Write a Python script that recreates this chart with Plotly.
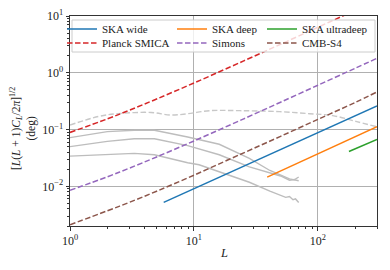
import plotly.graph_objects as go

# ---------------- data ----------------
L_cmb = [1, 2, 3, 5, 10, 20, 30, 50, 100, 200, 300]
planck = [0.089, 0.154, 0.218, 0.345, 0.66, 1.29, 1.92, 3.18, 6.33, 12.6, 18.9]
simons = [0.0085, 0.0147, 0.0208, 0.0329, 0.063, 0.123, 0.183, 0.303, 0.603, 1.2, 1.8]
cmbs4 = [0.0021, 0.0037, 0.0052, 0.0082, 0.0157, 0.031, 0.046, 0.076, 0.151, 0.30, 0.46]

L_wide = [5.7, 300]
ska_wide = [0.0052, 0.26]
L_deep = [39, 300]
ska_deep = [0.0145, 0.112]
L_udeep = [178, 300]
ska_udeep = [0.041, 0.067]

L_sig_dash = [1, 1.7, 2.4, 4.5, 6.5, 8.9, 13.5, 23.5, 49, 86, 132, 206, 294]
sig_dash = [0.12, 0.17, 0.19, 0.20, 0.18, 0.19, 0.215, 0.215, 0.207, 0.19, 0.176, 0.138, 0.113]

L_sigA = [1, 2.0, 3.3, 4.8, 8.9, 16, 28, 41, 59, 70]
sigA = [0.072, 0.092, 0.097, 0.097, 0.074, 0.055, 0.031, 0.019, 0.0135, 0.0125]
L_sigB = [1, 2.0, 3.3, 4.8, 8.9, 16, 28, 41, 50, 59, 65, 70]
sigB = [0.05, 0.062, 0.069, 0.069, 0.052, 0.036, 0.022, 0.017, 0.0152, 0.0128, 0.0132, 0.0146]
L_sigC = [1, 3.3, 4.8, 8.9, 11, 16, 28, 41, 50, 55, 59, 63, 66, 70]
sigC = [0.034, 0.038, 0.036, 0.026, 0.024, 0.018, 0.0118, 0.0082, 0.0068, 0.0064, 0.0066, 0.0058, 0.0060, 0.0052]

x_tickvals = [1, 10, 100]
x_ticktext = ["10<sup>0</sup>", "10<sup>1</sup>", "10<sup>2</sup>"]
y_tickvals = [0.01, 0.1, 1, 10]
y_ticktext = ["10<sup>\u22122</sup>", "10<sup>\u22121</sup>", "10<sup>0</sup>", "10<sup>1</sup>"]

# ---------------- figure ----------------
FONT = "Liberation Serif"
DASH = "5.5px,2.5px"
fig = go.Figure()

gray = "#bdbdbd"
for xs, ys in [(L_sigA, sigA), (L_sigB, sigB), (L_sigC, sigC)]:
    fig.add_trace(go.Scatter(x=xs, y=ys, mode="lines", line=dict(color=gray, width=1.4),
                             showlegend=False, hoverinfo="skip"))
fig.add_trace(go.Scatter(x=L_sig_dash, y=sig_dash, mode="lines", line_shape="spline",
                         line=dict(color="#c8c8c8", width=1.4, dash=DASH),
                         showlegend=False, hoverinfo="skip"))

series = [
    ("SKA wide", L_wide, ska_wide, "#1f77b4", "solid", "legend"),
    ("SKA deep", L_deep, ska_deep, "#ff7f0e", "solid", "legend2"),
    ("SKA ultradeep", L_udeep, ska_udeep, "#2ca02c", "solid", "legend3"),
    ("Planck SMICA", L_cmb, planck, "#d62728", DASH, "legend4"),
    ("Simons", L_cmb, simons, "#9467bd", DASH, "legend5"),
    ("CMB-S4", L_cmb, cmbs4, "#8c564b", DASH, "legend6"),
]
for name, xs, ys, col, dash, lg in series:
    fig.add_trace(go.Scatter(x=xs, y=ys, mode="lines", name=name,
                             line=dict(color=col, width=1.5, dash=dash),
                             legend=lg, line_shape="spline"))

# page offset (body margin) and plot area in window pixels
OFF = 8
W, H = 390 - OFF, 270 - OFF
PL, PR, PT, PB = 70 - OFF, 377 - OFF, 16 - OFF, 226 - OFF
pw, ph = PR - PL, PB - PT

def px_x(x):  # window px -> paper
    return (x - OFF - PL) / pw

def px_y(y):
    return 1 - (y - OFF - PT) / ph

legend_common = dict(bgcolor="rgba(0,0,0,0)", borderwidth=0, font=dict(family=FONT, size=11, color="#222"),
                     xanchor="left", yanchor="middle", itemwidth=30, tracegroupgap=0,
                     xref="container", yref="container")
pos = {"legend": (62, 29), "legend2": (172, 29), "legend3": (262, 29),
       "legend4": (62, 43), "legend5": (172, 43), "legend6": (262, 43)}
for lg, (lx, ly) in pos.items():
    fig.update_layout({lg: dict(x=(lx - OFF) / W, y=1 - (ly - OFF) / H, **legend_common)})

fig.add_shape(type="rect", xref="paper", yref="paper", layer="above",
              x0=px_x(72), x1=px_x(375), y0=px_y(52), y1=px_y(20),
              line=dict(color="#cccccc", width=1), fillcolor="rgba(255,255,255,0.8)")

minor_x = [m * 10 ** e for e in range(0, 3) for m in range(2, 10)]
minor_y = [m * 10 ** e for e in range(-3, 1) for m in range(2, 10)]

axis_common = dict(type="log", showline=True, linecolor="#333", linewidth=1, mirror=True,
                   ticks="outside", ticklen=3.5, tickcolor="#333", tickwidth=0.8,
                   showgrid=True, gridcolor="#b0b0b0", gridwidth=0.8, zeroline=False,
                   tickfont=dict(family=FONT, size=12, color="#222"), tickmode="array",
                   automargin=False)

fig.update_xaxes(range=[0, 2.477], tickvals=x_tickvals, ticktext=x_ticktext,
                 minor=dict(tickmode="array", tickvals=minor_x, ticks="outside", ticklen=2,
                            tickcolor="#333", showgrid=False),
                 **axis_common)
fig.update_yaxes(range=[-2.699, 1], tickvals=y_tickvals, ticktext=y_ticktext,
                 minor=dict(tickmode="array", tickvals=minor_y, ticks="outside", ticklen=2,
                            tickcolor="#333", showgrid=False),
                 **axis_common)

fig.add_annotation(text="[<i>L</i>(<i>L</i> + 1)<i>C<sub>L</sub></i>/2<i>\u03c0</i>]<sup>1/2</sup><br>(deg)",
                   xref="paper", yref="paper", x=px_x(23), y=px_y(128), textangle=-90,
                   showarrow=False, xanchor="center", yanchor="middle",
                   font=dict(family=FONT, size=11.5, color="#222"))
fig.add_annotation(text="<i>L</i>", xref="paper", yref="paper", x=px_x(224), y=px_y(253),
                   showarrow=False, xanchor="center", yanchor="middle",
                   font=dict(family=FONT, size=12.5, color="#222"))

fig.update_layout(width=W, height=H, margin=dict(l=PL, r=W - PR, t=PT, b=H - PB, autoexpand=False),
                  plot_bgcolor="white", paper_bgcolor="white", showlegend=True)

fig.write_html("out.html")
